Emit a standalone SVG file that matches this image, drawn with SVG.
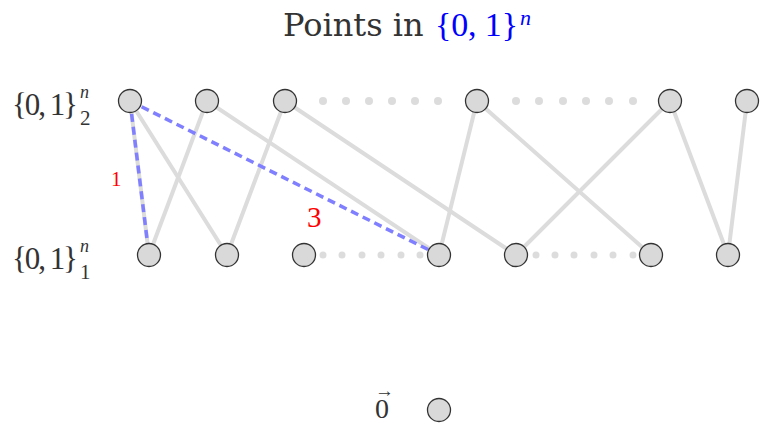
<svg xmlns="http://www.w3.org/2000/svg" width="761" height="425" viewBox="0 0 761 425">
<style>
.e{stroke:#dcdcdc;stroke-width:4;fill:none;stroke-linecap:round}
.b{stroke:#7f7fff;stroke-width:3.5;fill:none;stroke-dasharray:8,5}
.n{fill:#d9d9d9;stroke:#333;stroke-width:1.3}
.d{fill:#dcdcdc}
.t{font-family:"Liberation Serif","DejaVu Serif",serif;fill:#333}
.w{font-family:"DejaVu Serif","Liberation Serif",serif;fill:#333}
.r{font-family:"Liberation Serif","DejaVu Serif",serif;fill:#ff0000}
</style>
<rect width="761" height="425" fill="#fff"/>
<g id="title">
<text class="w" x="283" y="36" font-size="32">Points in</text>
<text class="t" x="435" y="36" font-size="34" style="fill:#0000ff" textLength="83" lengthAdjust="spacing">{0, 1}</text>
<text class="t" x="520" y="25" font-size="22" font-style="italic" style="fill:#0000ff">n</text>
</g>
<g id="label-top"><text class="t" x="12" y="115" font-size="31" textLength="66" lengthAdjust="spacing">{0, 1}</text><text class="t" x="80" y="98" font-size="18" font-style="italic">n</text><text class="t" x="80" y="125" font-size="21">2</text></g>
<g id="label-bot"><text class="t" x="12" y="269" font-size="31" textLength="66" lengthAdjust="spacing">{0, 1}</text><text class="t" x="80" y="252" font-size="18" font-style="italic">n</text><text class="t" x="80" y="279" font-size="21">1</text></g>
<g id="dots">
<circle class="d" cx="323" cy="101" r="4"/><circle class="d" cx="346" cy="101" r="4"/><circle class="d" cx="369" cy="101" r="4"/><circle class="d" cx="392" cy="101" r="4"/><circle class="d" cx="415" cy="101" r="4"/><circle class="d" cx="438" cy="101" r="4"/>
<circle class="d" cx="516" cy="101" r="4"/><circle class="d" cx="539" cy="101" r="4"/><circle class="d" cx="563" cy="101" r="4"/><circle class="d" cx="586" cy="101" r="4"/><circle class="d" cx="609" cy="101" r="4"/><circle class="d" cx="633" cy="101" r="4"/>
<circle class="d" cx="323" cy="255" r="3.5"/><circle class="d" cx="342" cy="255" r="3.5"/><circle class="d" cx="362" cy="255" r="3.5"/><circle class="d" cx="381" cy="255" r="3.5"/><circle class="d" cx="401" cy="255" r="3.5"/><circle class="d" cx="420" cy="255" r="3.5"/>
<circle class="d" cx="536" cy="255" r="3.5"/><circle class="d" cx="555" cy="255" r="3.5"/><circle class="d" cx="574" cy="255" r="3.5"/><circle class="d" cx="594" cy="255" r="3.5"/><circle class="d" cx="613" cy="255" r="3.5"/><circle class="d" cx="633" cy="255" r="3.5"/>
</g>
<g id="connectors">
<line class="e" x1="130" y1="101" x2="149" y2="255"/>
<line class="e" x1="130" y1="101" x2="227" y2="255"/>
<line class="e" x1="207" y1="101" x2="149" y2="255"/>
<line class="e" x1="207" y1="101" x2="439" y2="255"/>
<line class="e" x1="285" y1="101" x2="227" y2="255"/>
<line class="e" x1="285" y1="101" x2="516" y2="255"/>
<line class="e" x1="477" y1="101" x2="439" y2="255"/>
<line class="e" x1="477" y1="101" x2="651" y2="255"/>
<line class="e" x1="670" y1="101" x2="516" y2="255"/>
<line class="e" x1="670" y1="101" x2="728" y2="255"/>
<line class="e" x1="747" y1="101" x2="728" y2="255"/>
<line class="b" x1="130" y1="101" x2="149" y2="255"/>
<line class="b" x1="130" y1="101" x2="439" y2="255"/>
<text class="r" x="111" y="186" font-size="21">1</text>
<text class="r" x="307" y="227" font-size="29">3</text>
</g>
<g id="top-nodes">
<circle id="t1" class="n" cx="130" cy="101" r="11.5"/>
<circle id="t2" class="n" cx="207" cy="101" r="11.5"/>
<circle id="t3" class="n" cx="285" cy="101" r="11.5"/>
<circle id="t4" class="n" cx="477" cy="101" r="11.5"/>
<circle id="t5" class="n" cx="670" cy="101" r="11.5"/>
<circle id="t6" class="n" cx="747" cy="101" r="11.5"/>
</g>
<g id="bottom-nodes">
<circle id="b1" class="n" cx="149" cy="255" r="11.5"/>
<circle id="b2" class="n" cx="227" cy="255" r="11.5"/>
<circle id="b3" class="n" cx="304" cy="255" r="11.5"/>
<circle id="b4" class="n" cx="439" cy="255" r="11.5"/>
<circle id="b5" class="n" cx="516" cy="255" r="11.5"/>
<circle id="b6" class="n" cx="651" cy="255" r="11.5"/>
<circle id="b7" class="n" cx="728" cy="255" r="11.5"/>
</g>
<g id="zero">
<text class="t" x="375" y="418" font-size="28">0<tspan x="375" y="397" font-size="19">→</tspan></text>
<circle class="n" cx="439" cy="410" r="11.5"/>
</g>
</svg>
